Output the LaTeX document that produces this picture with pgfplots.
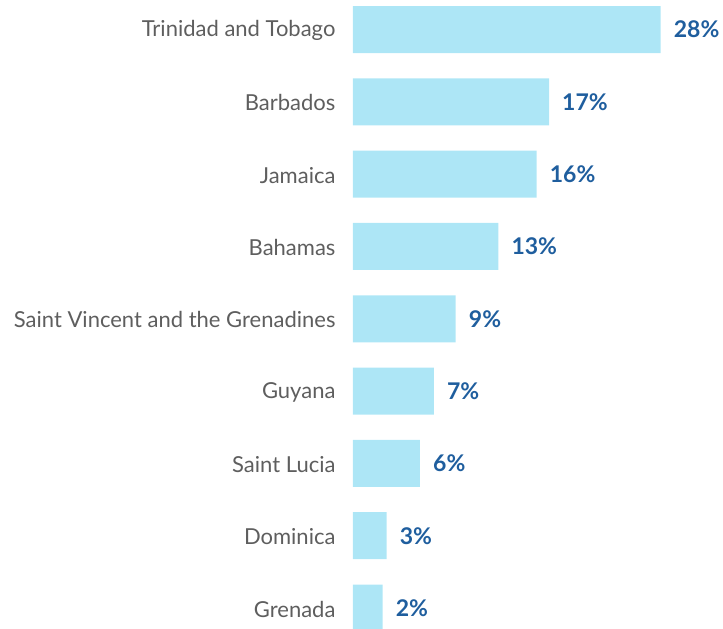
\documentclass[border=0pt]{standalone}
\usepackage{pgfplots}
\pgfplotsset{compat=1.18}
\usepackage{pgfplotstable}
\usepackage{fontspec}
\setmainfont{Lato}
\definecolor{barc}{HTML}{ADE6F6}
\definecolor{valc}{HTML}{1F5E9E}
\definecolor{labc}{HTML}{5E5E5E}
\pgfplotstableread[col sep=comma]{
y,x,lab
0,27.97,28\%
1,17.82,17\%
2,16.70,16\%
3,13.21,13\%
4,9.34,9\%
5,7.36,7\%
6,6.09,6\%
7,3.06,3\%
8,2.70,2\%
}\datatab
\begin{document}
\begin{tikzpicture}[x=1pt,y=1pt]
\useasboundingbox (0,0) rectangle (723,629);
\begin{axis}[
  at={(353pt,0pt)}, anchor=south west,
  scale only axis, width=330pt, height=629pt,
  xmin=0, xmax=30,
  ymin=-0.408, ymax=8.29, y dir=reverse,
  hide x axis,
  axis y line=left, y axis line style={draw=none},
  major tick length=0pt,
  ytick={0,1,2,3,4,5,6,7,8},
  yticklabels={Trinidad and Tobago,Barbados,Jamaica,Bahamas,Saint Vincent and the Grenadines,Guyana,Saint Lucia,Dominica,Grenada},
  yticklabel style={font=\fontsize{22}{26}\selectfont, text=labc, xshift=-14pt, yshift=-1pt},
  xbar, bar width=47pt,
  clip=false,
  nodes near coords,
  point meta=explicit symbolic,
  every node near coord/.append style={anchor=west, xshift=13pt, inner sep=0pt, text=valc, font=\fontsize{23}{27}\selectfont\bfseries},
]
\addplot[fill=barc, draw=none] table[x=x, y=y, meta=lab] {\datatab};
\end{axis}
\end{tikzpicture}
\end{document}
